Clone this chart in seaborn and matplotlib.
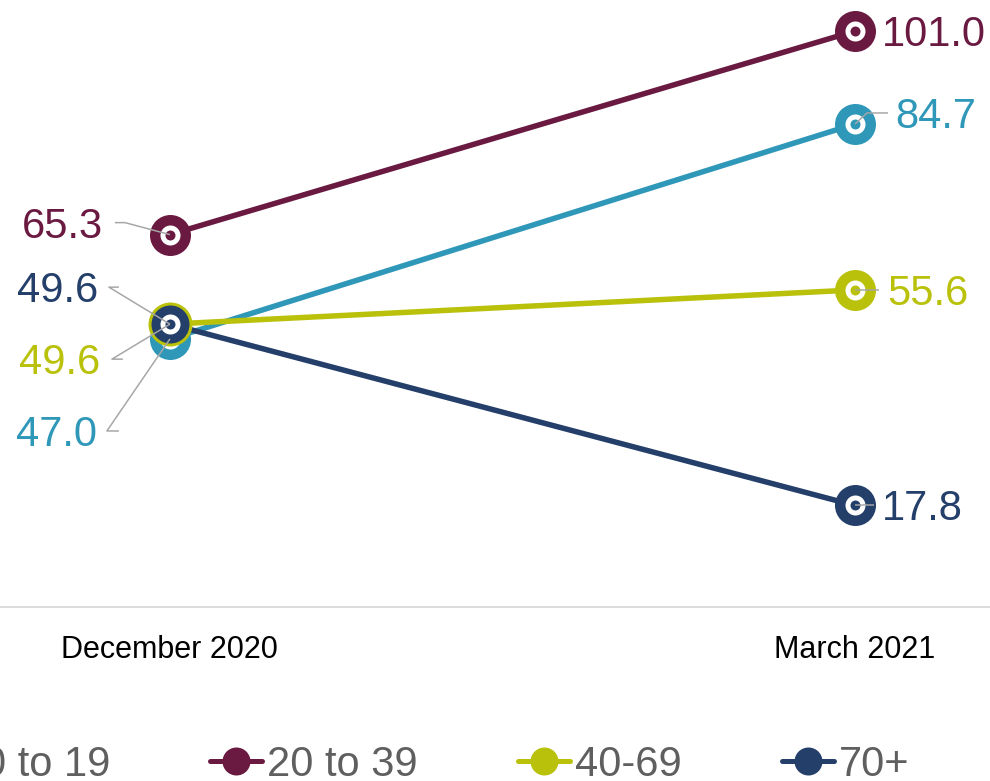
import matplotlib
matplotlib.use("Agg")
import matplotlib.pyplot as plt
from matplotlib.lines import Line2D
import numpy as np
import pandas as pd
import seaborn as sns

# ---- data -------------------------------------------------------------
periods = ["December 2020", "March 2021"]
groups = ["0 to 19", "20 to 39", "40-69", "70+"]
vals_0_19 = [47.0, 84.7]
vals_20_39 = [65.3, 101.0]
vals_40_69 = [49.6, 55.6]
vals_70_plus = [49.6, 17.8]
series_values = [vals_0_19, vals_20_39, vals_40_69, vals_70_plus]

colors = ["#2f98b9", "#6a1a41", "#b9c10b", "#243f6a"]
palette = dict(zip(groups, colors))

# label placement: (text dx, text dy, leader vertices) in pixels from the point
left_labels = {
    "0 to 19": (-73, -92, [(0, 0), (-63, -92), (-51, -92)]),
    "20 to 39": (-67, 12, [(0, 0), (-45, 12), (-55, 12)]),
    "40-69": (-70, -35, [(0, 0), (-58, -35), (-47, -35)]),
    "70+": (-72, 37, [(0, 0), (-61, 37), (-51, 37)]),
}
right_labels = {
    "0 to 19": (40, 11, [(0, 0), (12, 11), (33, 11)]),
    "20 to 39": (27, 0, None),
    "40-69": (32, 0, [(0, 0), (24, 0)]),
    "70+": (27, 0, [(0, 0), (19, 0)]),
}

df = pd.DataFrame(
    [(g, i, v) for g, vals in zip(groups, series_values) for i, v in enumerate(vals)],
    columns=["group", "pos", "value"],
)

# ---- styling ----------------------------------------------------------
sns.set_theme(style="white")
plt.rcParams["font.family"] = ["Liberation Sans", "DejaVu Sans"]

DPI = 100
fig = plt.figure(figsize=(9.9, 7.81), dpi=DPI)
ax = fig.add_axes([0.0, 0.2228, 1.0, 0.7772])

px = 72.0 / DPI  # points per pixel

sns.lineplot(
    data=df, x="pos", y="value", hue="group", palette=palette,
    hue_order=groups, linewidth=5.5 * px, legend=False, ax=ax, sort=False,
    zorder=2,
)
for line in ax.lines:
    line.set_solid_capstyle("butt")

ax.set_xlim(-0.248, 1.197)
ax.set_ylim(0, 106.44)

# ring-style end markers
z = 3
for gi, (g, vals, c) in enumerate(zip(groups, series_values, colors)):
    for i, v in enumerate(vals):
        edge = c
        for pg, pvals, pc in zip(groups[:gi], series_values[:gi], colors[:gi]):
            if pvals[i] == v:
                edge = pc
        ax.plot([i], [v], marker="o", ms=41 * px, mfc=c, mec=edge,
                mew=3 * px if edge != c else 0, zorder=z, clip_on=False)
        ax.plot([i], [v], marker="o", ms=20 * px, mfc="white", mew=0,
                zorder=z + 0.1, clip_on=False)
        ax.plot([i], [v], marker="o", ms=10 * px, mfc=c, mew=0,
                zorder=z + 0.2, clip_on=False)
        z += 1

# value labels with leader lines
fig.canvas.draw()
leader_color = "#a6a6a6"
DIGIT_HALF = 15  # half the digit height in pixels at this font size
for g, vals, c in zip(groups, series_values, colors):
    for i, spec, ha in ((0, left_labels[g], "right"), (1, right_labels[g], "left")):
        v = vals[i]
        dx, dy, leader = spec
        ax.annotate(f"{v:.1f}", xy=(i, v), xytext=(dx, dy - DIGIT_HALF),
                    textcoords="offset pixels", ha=ha, va="baseline",
                    fontsize=30, color=c, zorder=30, annotation_clip=False)
        if leader:
            bx, by = ax.transData.transform((i, v))
            pts = np.array([(bx + ox, by + oy) for ox, oy in leader])
            ax.add_line(Line2D(pts[:, 0], pts[:, 1], transform=None,
                               color=leader_color, lw=1.5 * px, zorder=25,
                               solid_capstyle="butt"))

# axes decoration
ax.set_xticks([0, 1])
ax.set_xticklabels(periods, fontsize=22, color="black")
ax.tick_params(axis="x", length=0, pad=20.5)
ax.set_yticks([])
ax.set_xlabel("")
ax.set_ylabel("")
for side in ("top", "left", "right"):
    ax.spines[side].set_visible(False)
ax.spines["bottom"].set_color("#dcdcdc")
ax.spines["bottom"].set_linewidth(2 * px)
ax.grid(False)

# legend along the bottom
handles = [
    Line2D([], [], color=c, lw=5 * px, marker="o", ms=28 * px,
           mew=0, solid_capstyle="round")
    for c in colors
]
fig.legend(handles, groups, loc="center left", bbox_to_anchor=(-0.075, 0.021),
           ncol=4, frameon=False, fontsize=30, labelcolor="#5f5f5f",
           handlelength=1.25, handletextpad=0.12, columnspacing=2.4,
           borderpad=0, borderaxespad=0)

fig.savefig("out.png", dpi=DPI)
